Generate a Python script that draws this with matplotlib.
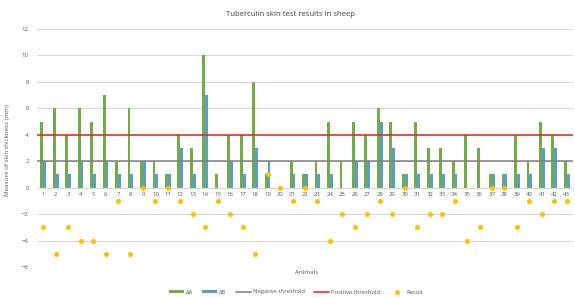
import numpy as np
import matplotlib.pyplot as plt

plt.rcParams["font.family"] = ["Open Sans", "DejaVu Sans"]

ANIMALS = [str(i) for i in range(1, 44)]

DELTA_A = [5, 6, 4, 6, 5, 7, 2, 6, 2, 2, 1, 4, 3, 10, 1, 4, 4, 8, 1, 0, 2, 1,
           2, 5, 2, 5, 4, 6, 5, 1, 5, 3, 3, 2, 4, 3, 1, 1, 4, 2, 5, 4, 2]
DELTA_B = [2, 1, 1, 2, 1, 2, 1, 1, 2, 1, 1, 3, 1, 7, 0, 2, 1, 3, 2, 0, 1, 1,
           1, 1, 0, 2, 2, 5, 3, 1, 1, 1, 1, 1, 0, 0, 1, 1, 1, 1, 3, 3, 1]
RESULT = [-3, -5, -3, -4, -4, -5, -1, -5, 0, -1, 0, -1, -2, -3, -1, -2, -3, -5,
          1, 0, -1, 0, -1, -4, -2, -3, -2, -1, -2, 0, -3, -2, -2, -1, -4, -3,
          0, 0, -3, -1, -2, -1, -1]

NEG_THRESHOLD = 2
POS_THRESHOLD = 4

GREEN = "#70AD47"
BLUE = "#5B9BD5"
GRAY = "#7F7F7F"
RED = "#E8231E"
YELLOW = "#FFC000"
TEXT = "#595959"
GRID = "#D9D9D9"

W, H = 575, 298
fig = plt.figure(figsize=(W / 100, H / 100), dpi=100)
ax = fig.add_axes([37 / W, 1 - 267 / H, (573 - 37) / W, (267 - 29) / H])

x = np.arange(len(ANIMALS))
bw = 0.23
h_a = ax.bar(x - bw / 2, DELTA_A, width=bw, color=GREEN, label="ΔA", zorder=2)
h_b = ax.bar(x + bw / 2, DELTA_B, width=bw, color=BLUE, label="ΔB", zorder=2)
h_neg = ax.axhline(NEG_THRESHOLD, color=GRAY, lw=1.1, label="Negative threshold", zorder=3)
h_pos = ax.axhline(POS_THRESHOLD, color=RED, lw=1.1, label="Positive threshold", zorder=3)
h_res, = ax.plot(x, RESULT, linestyle="none", marker="o", ms=2.6, color=YELLOW,
                 label="Result", zorder=4)

ax.set_xlim(-0.5, len(ANIMALS) - 0.5)
ax.set_ylim(-6, 12)
ax.set_yticks(range(-6, 13, 2))
ax.set_xticks(x)
ax.set_xticklabels(ANIMALS)
ax.yaxis.grid(True, color=GRID, lw=0.8, zorder=0)
ax.set_axisbelow(True)

for side in ["top", "right", "left"]:
    ax.spines[side].set_visible(False)
ax.spines["bottom"].set_position(("data", 0))
ax.spines["bottom"].set_color(GRID)
ax.spines["bottom"].set_linewidth(0.8)
ax.tick_params(axis="both", length=0, labelsize=4.3, colors=TEXT)
ax.tick_params(axis="y", pad=6)
ax.tick_params(axis="x", pad=3)

fig.text(290 / W, 1 - 15 / H, "Tuberculin skin test results in sheep",
         ha="center", va="center", fontsize=5.6, color="#404040")
fig.text(8 / W, 1 - 150 / H, "Measure of skin thickness (mm)", rotation=90,
         ha="center", va="center", fontsize=4.5, color=TEXT)
fig.text(307 / W, 1 - 273 / H, "Animals", ha="center", va="center",
         fontsize=4.5, color=TEXT)

fig.legend([h_a, h_b, h_neg, h_pos, h_res],
           ["ΔA", "ΔB", "Negative threshold", "Positive threshold", "Result"],
           loc="center", bbox_to_anchor=(296 / W, 1 - 292 / H), ncol=5,
           frameon=False, fontsize=4.2, handlelength=2.6, handleheight=0.5,
           columnspacing=1.6, handletextpad=0.3, labelcolor=TEXT)

fig.savefig("out.png", dpi=100)
